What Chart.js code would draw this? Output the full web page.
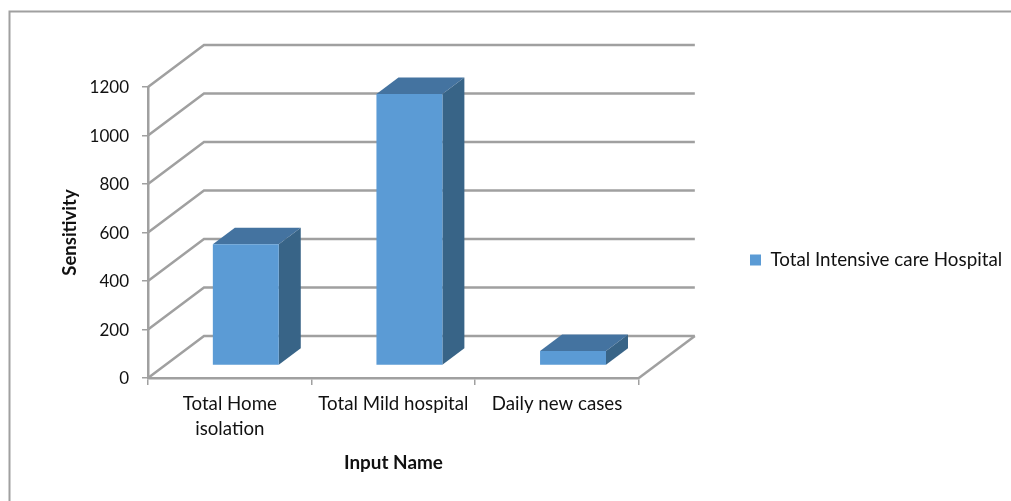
<!DOCTYPE html>
<html lang="en">
<head>
  <meta charset="UTF-8">
  <title>Sensitivity by Input Name</title>
  <script src="https://cdn.jsdelivr.net/npm/chart.js"></script>
  <style>
    html, body {
      margin: 0;
      background-color: #fff;
      overflow: hidden;
    }
    #wrap {
      position: relative;
      width: 1011px;
      height: 501px;
    }
  </style>
</head>
<body>
  <div id="wrap"><canvas id="grafico"></canvas></div>

  <script>
    const categories = [['Total Home', 'isolation'], 'Total Mild hospital', 'Daily new cases'];
    const seriesName = 'Total Intensive care Hospital';
    const seriesValues = [500, 1120, 60];
    const yMax = 1200;
    const yStep = 200;

    const colFront = '#5b9bd5';
    const colTop = '#4473a0';
    const colSide = '#386487';
    const colLine = '#a0a0a0';
    const colText = '#111';
    const fontName = 'Lato, sans-serif';

    // fake perspective: floor/wall shift and how far the bars sit inside it
    const wall = { x: 56, y: -42 };
    const barShift = { x: 16, y: -12.5 };
    const barDepth = { x: 22, y: -16.5 };

    function poly(ctx, pts, fill) {
      ctx.beginPath();
      pts.forEach((p, i) => i ? ctx.lineTo(p[0], p[1]) : ctx.moveTo(p[0], p[1]));
      ctx.closePath();
      ctx.fillStyle = fill;
      ctx.fill();
    }

    const box3d = {
      id: 'box3d',
      beforeDraw(chart) {
        // outer frame, top and left only
        const ctx = chart.ctx;
        ctx.save();
        ctx.strokeStyle = colLine;
        ctx.lineWidth = 2;
        ctx.beginPath();
        ctx.moveTo(9.5, 501);
        ctx.lineTo(9.5, 11.5);
        ctx.lineTo(1011, 11.5);
        ctx.stroke();
        ctx.restore();
      },
      afterLayout(chart) {
        // legend sits well clear of the plot
        const l = chart.legend;
        const h = l.bottom - l.top;
        const w = l.right - l.left;
        l.left = 740;
        l.right = 740 + w;
        l.top = 260 - h / 2;
        l.bottom = 260 + h / 2;
      },
      beforeDatasetsDraw(chart) {
        const ctx = chart.ctx;
        const { left, right } = chart.chartArea;
        const y = chart.scales.y;

        ctx.save();
        ctx.strokeStyle = colLine;
        ctx.lineWidth = 2.5;
        y.ticks.forEach(t => {
          const py = y.getPixelForValue(t.value);
          ctx.beginPath();
          ctx.moveTo(left, py);
          ctx.lineTo(left + wall.x, py + wall.y);
          ctx.lineTo(right + wall.x, py + wall.y);
          ctx.stroke();
        });
        // right edge of the floor
        const y0 = y.getPixelForValue(0);
        ctx.beginPath();
        ctx.moveTo(right, y0);
        ctx.lineTo(right + wall.x, y0 + wall.y);
        ctx.stroke();
        ctx.restore();

        // top and side faces come from the bar elements, then the fronts go on top
        ctx.save();
        ctx.translate(barShift.x, barShift.y);
        chart.getDatasetMeta(0).data.forEach(bar => {
          const p = bar.getProps(['x', 'y', 'base', 'width'], true);
          const l = p.x - p.width / 2;
          const r = p.x + p.width / 2;
          poly(ctx, [[l, p.y], [r, p.y], [r + barDepth.x, p.y + barDepth.y], [l + barDepth.x, p.y + barDepth.y]], colTop);
          poly(ctx, [[r, p.y], [r + barDepth.x, p.y + barDepth.y], [r + barDepth.x, p.base + barDepth.y], [r, p.base]], colSide);
        });
      },
      afterDatasetsDraw(chart) {
        chart.ctx.restore();
      }
    };

    new Chart(document.getElementById('grafico'), {
      type: 'bar',
      data: {
        labels: categories,
        datasets: [{
          label: seriesName,
          data: seriesValues,
          backgroundColor: colFront,
          barPercentage: 0.403,
          categoryPercentage: 1,
          clip: false
        }]
      },
      plugins: [box3d],
      options: {
        responsive: true,
        maintainAspectRatio: false,
        animation: false,
        layout: { padding: { left: 59, top: 87, right: 100, bottom: 27 } },
        scales: {
          x: {
            afterFit(s) { s.height = 96; },
            grid: { drawOnChartArea: false, color: colLine, lineWidth: 1.5, tickLength: 7 },
            border: { color: colLine, width: 2.5 },
            ticks: {
              color: colText,
              font: { size: 18.7, family: fontName, lineHeight: 1.34 },
              maxRotation: 0,
              autoSkip: false,
              padding: 6
            },
            title: { display: true, text: 'Input Name', color: colText, font: { size: 18.9, weight: 'bold', family: fontName }, padding: 0 }
          },
          y: {
            min: 0,
            max: yMax,
            afterFit(s) { s.width = 89; },
            ticks: {
              stepSize: yStep,
              color: colText,
              font: { size: 17, family: fontName },
              format: { useGrouping: false },
              labelOffset: 1,
              padding: 13
            },
            grid: { drawOnChartArea: false, color: colLine, lineWidth: 1.5, tickLength: 6 },
            border: { color: colLine, width: 2.5 },
            title: { display: true, text: 'Sensitivity', color: colText, font: { size: 18.5, weight: 'bold', family: fontName }, padding: 0 }
          }
        },
        plugins: {
          legend: {
            position: 'right',
            maxWidth: 290,
            labels: { boxWidth: 11, boxHeight: 11, color: colText, font: { size: 18.8, family: fontName }, padding: 10 }
          },
          tooltip: { enabled: false }
        }
      }
    });
  </script>
</body>
</html>
